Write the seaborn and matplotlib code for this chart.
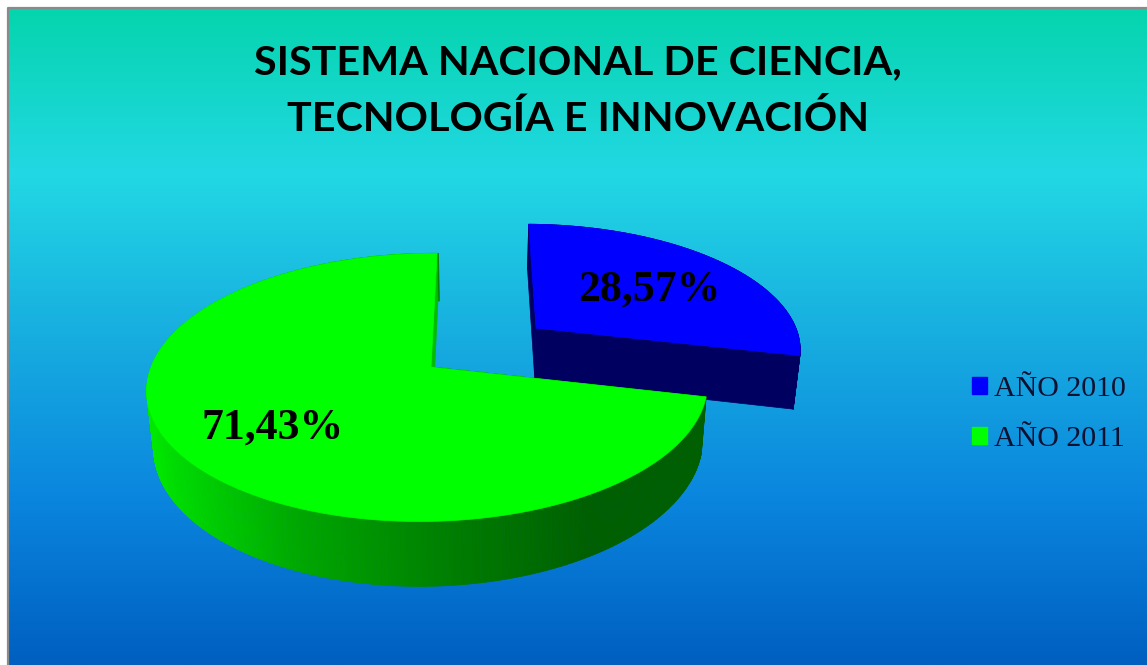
import numpy as np
import seaborn as sns
import matplotlib
matplotlib.use("Agg")
import matplotlib.pyplot as plt
from matplotlib.collections import PolyCollection
from matplotlib.patches import Patch, Polygon

title = "SISTEMA NACIONAL DE CIENCIA,\nTECNOLOGÍA E INNOVACIÓN"
categories = ["AÑO 2010", "AÑO 2011"]
shares = [28.57, 71.43]
explode = [0.5, 0.0]

top_colors = ["#0000FF", "#00FF00"]
bg_stops = ["#05D5AE", "#22D8E4", "#17ADE0", "#0A85DE", "#005FC0"]
green_side = ["#00E800", "#00A800", "#008000", "#005F00"]

W, H = 1147, 665

sns.set_theme(style="white")

# fake 3D camera, numbers are pixels
CX, CY, RX, RY, DEPTH = 431, 367, 277, 131, 55
PERSP_V, PERSP_U, SHEAR = 0.152, 0.01, 7


def project(u, v, z=0):
    s = 1 / (1 + PERSP_V * v + PERSP_U * u)
    x = RX * u * s + SHEAR * v * s
    y = CY - RY * v * s + DEPTH * z * s
    if z:
        return CX + 1 + 0.979 * x, y
    return CX + x, y


def slice_outline(a0, a1, off, z=0):
    ang = np.radians(np.linspace(a0, a1, 200))
    u = np.sin(ang) + off[0]
    v = np.cos(ang) + off[1]
    xs, ys = project(u, v, z)
    ax_, ay_ = project(off[0], off[1], z)
    return np.column_stack([np.r_[ax_, xs], np.r_[ay_, ys]])


def draw_slice(ax, a0, a1, off, top, wall_start, wall_end, side_pal=None):
    # outer wall as thin strips shaded along x
    ang = np.radians(np.arange(a0, a1 + 0.5, 0.5))
    u = np.sin(ang) + off[0]
    v = np.cos(ang) + off[1]
    xt, yt = project(u, v)
    xb, yb = project(u, v, 1)
    strips, cols = [], []
    for i in range(len(ang) - 1):
        strips.append([(xt[i], yt[i]), (xt[i + 1], yt[i + 1]), (xb[i + 1], yb[i + 1]), (xb[i], yb[i])])
        if side_pal is None:
            cols.append(wall_end)
        else:
            k = (xt[i] - 147) / (590 - 147)
            cols.append(side_pal[int(np.clip(k, 0, 1) * (len(side_pal) - 1))])
    ax.add_collection(PolyCollection(strips, facecolors=cols, edgecolors=cols, linewidths=0.5))
    # radial walls
    for ang_, col in [(a0, wall_start), (a1, wall_end)]:
        u_ = np.sin(np.radians(ang_)) + off[0]
        v_ = np.cos(np.radians(ang_)) + off[1]
        p = [project(off[0], off[1]), project(u_, v_), project(u_, v_, 1), project(off[0], off[1], 1)]
        ax.add_patch(Polygon(p, closed=True, fc=col, ec=col, lw=0.5))
    # top face
    ax.add_patch(Polygon(slice_outline(a0, a1, off), closed=True, fc=top, ec=top, lw=0.5))


fig = plt.figure(figsize=(W / 100, H / 100), dpi=100, facecolor="white")
ax = fig.add_axes([0, 0, 1, 1])
ax.axis("off")

# background gradient
grad = np.linspace(0, 1, 256).reshape(-1, 1)
ax.imshow(grad, cmap=sns.blend_palette(bg_stops, as_cmap=True), extent=(9, W, H, 9), aspect="auto", zorder=0)
ax.set_xlim(0, W)
ax.set_ylim(H, 0)
ax.plot([8, 8, W], [H, 8, 8], color="#8A8A8A", lw=1.6, zorder=1)

# slices go clockwise from 12 o'clock
angles = np.cumsum([0] + shares) / sum(shares) * 360
dark_navy = "#000060"
side_pal = sns.blend_palette(green_side, n_colors=200)

a0, a1 = angles[0], angles[1]
mid = np.radians((a0 + a1) / 2)
off = (explode[0] * np.sin(mid), explode[0] * np.cos(mid))
draw_slice(ax, a0, a1, off, top_colors[0], dark_navy, dark_navy)

a0, a1 = angles[1], angles[2]
draw_slice(ax, a0, a1, (0, 0), top_colors[1], "#005F00", "#00BC00", side_pal)

# data labels
lab_font = dict(family="Liberation Serif", weight="bold", size=31.5, color="black", ha="center", va="center")
ax.text(649, 290, f"{shares[0]:.2f}%".replace(".", ","), **lab_font)
ax.text(273, 428, f"{shares[1]:.2f}%".replace(".", ","), **lab_font)

ax.text(578, 91.5, title, family="Lato", weight="bold", size=29.7, color="black",
        ha="center", va="center", linespacing=1.6)

handles = [Patch(fc=c, ec=c, label=n) for c, n in zip(top_colors, categories)]
ax.legend(handles=handles, loc="center left", bbox_to_anchor=(972, 414), bbox_transform=ax.transData,
          frameon=False, borderpad=0, borderaxespad=0, handlelength=0.5, handleheight=0.5,
          handletextpad=0.24, labelspacing=0.78,
          prop=dict(family="Liberation Serif", size=21.5), labelcolor="#101030")

fig.savefig("out.png", dpi=100)
